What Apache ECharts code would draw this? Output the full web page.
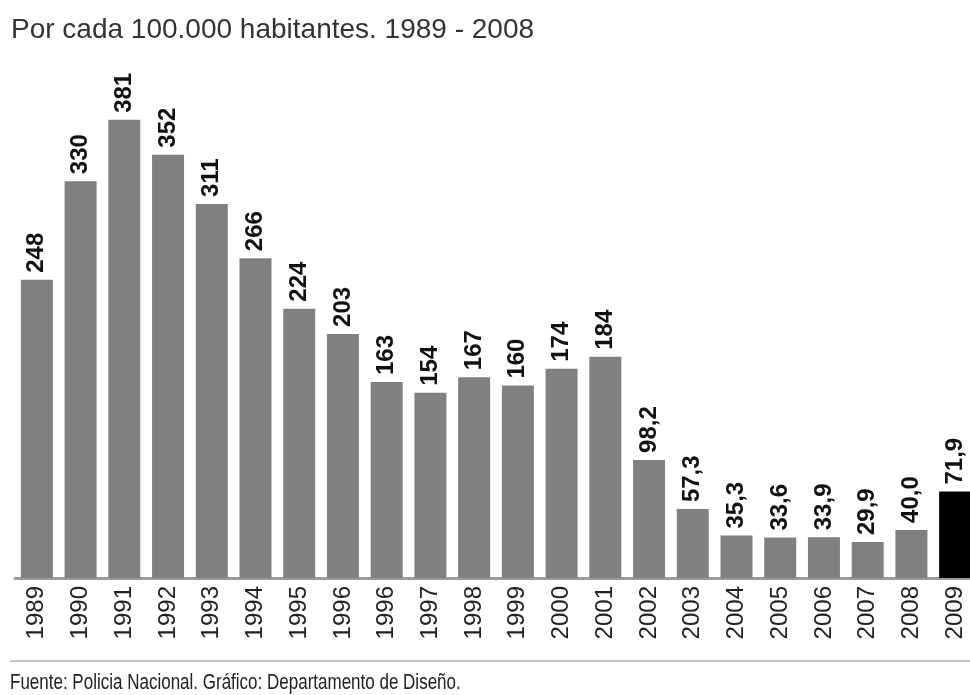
<!DOCTYPE html>
<html>
<head>
<meta charset="utf-8">
<script src="https://cdn.jsdelivr.net/npm/echarts@6/dist/echarts.min.js"></script>
<style>
  html, body { margin: 0; padding: 0; background: #fff; }
  #chart { width: 970px; height: 695px; }
</style>
</head>
<body>
<div id="chart"></div>
<script>
// Tasa por cada 100.000 habitantes
const years = ['1989', '1990', '1991', '1992', '1993', '1994', '1995', '1996', '1996', '1997', '1998',
  '1999', '2000', '2001', '2002', '2003', '2004', '2005', '2006', '2007', '2008', '2009'];
const rates = [248, 330, 381, 352, 311, 266, 224, 203, 163, 154, 167,
  160, 174, 184, 98.2, 57.3, 35.3, 33.6, 33.9, 29.9, 40.0, 71.9];
const highlightYear = '2009';

const titleText = 'Por cada 100.000 habitantes. 1989 - 2008';
const sourceText = 'Fuente: Policia Nacional. Gráfico: Departamento de Diseño.';

const FONT = '"Liberation Sans", Arial, sans-serif';

function formatRate(v) {
  return v < 100 ? v.toFixed(1).replace('.', ',') : String(Math.round(v));
}

const barData = rates.map((v, i) => ({
  value: v,
  itemStyle: { color: (years[i] === highlightYear && i === years.length - 1) ? '#000000' : '#808080' }
}));

const chart = echarts.init(document.getElementById('chart'), null, { renderer: 'canvas' });

chart.setOption({
  backgroundColor: '#ffffff',
  animation: false,
  title: {
    text: titleText,
    left: 6,
    top: 11,
    textStyle: { fontFamily: FONT, fontSize: 28, fontWeight: 'normal', color: '#333333' }
  },
  // the last bar runs past the right edge on purpose
  grid: { left: 15, width: 962, top: 97, height: 481, outerBoundsMode: 'none', containLabel: false },
  xAxis: {
    type: 'category',
    data: years,
    boundaryGap: true,
    axisLine: { show: true, lineStyle: { color: '#9a9a9a', width: 3 } },
    axisTick: { show: false },
    axisLabel: {
      rotate: 90,
      margin: 8,
      interval: 0,
      fontFamily: FONT,
      fontSize: 24,
      color: '#222222'
    }
  },
  yAxis: {
    type: 'value',
    min: 0,
    max: 400,
    show: false,
    splitLine: { show: false }
  },
  series: [{
    type: 'bar',
    data: barData,
    barWidth: 32,
    label: {
      show: true,
      position: 'top',
      rotate: 90,
      align: 'left',
      verticalAlign: 'middle',
      distance: 7,
      fontFamily: FONT,
      fontSize: 24,
      fontWeight: 'bold',
      color: '#111111',
      formatter: p => formatRate(p.value)
    }
  }],
  graphic: [
    {
      type: 'line',
      shape: { x1: 10, y1: 661, x2: 970, y2: 661 },
      style: { stroke: '#c4c4c4', lineWidth: 2 }
    },
    {
      type: 'text',
      x: 10,
      y: 683,
      scaleY: 1.35,
      style: {
        text: sourceText,
        fontFamily: FONT,
        fontSize: 17,
        fill: '#222222',
        verticalAlign: 'middle',
        align: 'left'
      }
    }
  ]
});
</script>
</body>
</html>
